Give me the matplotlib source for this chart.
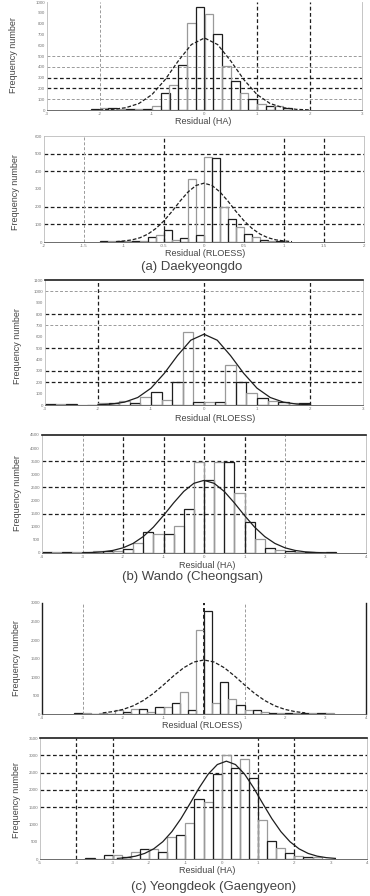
import matplotlib
matplotlib.use("Agg")
import matplotlib.pyplot as plt

plt.rcParams['font.family'] = ['Liberation Sans', 'DejaVu Sans']

# ---- data ----
# (a) Daekyeongdo, residual (HA)
p1_edges = [-2.167, -2.0, -1.833, -1.667, -1.5, -1.333, -1.167, -1.0, -0.833, -0.667, -0.5, -0.333,
            -0.167, 0.0, 0.167, 0.333, 0.5, 0.667, 0.833, 1.0, 1.167, 1.333, 1.5]
p1_counts = [10, 19, 19, 10, 5, 5, 10, 40, 157, 231, 417, 806, 954, 889, 704, 407, 269, 157, 102,
             56, 37, 37, 19]
p1_curve_x = [-2.0, -1.75, -1.5, -1.25, -1.0, -0.75, -0.5, -0.25, 0.0, 0.25, 0.5, 0.75, 1.0, 1.25,
              1.5, 1.75, 2.0]
p1_curve_y = [1, 6, 21, 60, 143, 281, 454, 606, 667, 606, 454, 281, 143, 60, 21, 6, 1]
p1_xticks = [-3, -2, -1, 0, 1, 2, 3]
p1_yticks = [0, 100, 200, 300, 400, 500, 600, 700, 800, 900, 1000]

# (a) Daekyeongdo, residual (RLOESS)
p2_edges = [-1.3, -1.2, -1.1, -1.0, -0.9, -0.8, -0.7, -0.6, -0.5, -0.4, -0.3, -0.2, -0.1, 0.0, 0.1,
            0.2, 0.3, 0.4, 0.5, 0.6, 0.7, 0.8, 0.9]
p2_counts = [6, 6, 6, 6, 6, 6, 28, 40, 68, 12, 20, 356, 40, 480, 475, 200, 130, 85, 45, 30, 12, 8, 6]
p2_curve_x = [-1.1, -1.0, -0.9, -0.8, -0.7, -0.6, -0.5, -0.4, -0.3, -0.2, -0.1, 0.0, 0.1, 0.2, 0.3,
              0.4, 0.5, 0.6, 0.7, 0.8, 0.9, 1.0, 1.1]
p2_curve_y = [2, 6, 12, 24, 45, 77, 120, 173, 231, 283, 320, 333, 320, 283, 231, 173, 120, 77, 45,
              24, 12, 6, 2]
p2_xticks = [-2, -1.5, -1, -0.5, 0, 0.5, 1, 1.5, 2]
p2_yticks = [0, 100, 200, 300, 400, 500, 600]

# (b) Wando (Cheongsan), residual (RLOESS)
p3_edges = [-3.0, -2.8, -2.6, -2.4, -2.2, -2.0, -1.8, -1.6, -1.4, -1.2, -1.0, -0.8, -0.6, -0.4, -0.2,
            0.0, 0.2, 0.4, 0.6, 0.8, 1.0, 1.2, 1.4, 1.6, 1.8]
p3_counts = [5, 5, 5, 0, 0, 17, 17, 35, 20, 70, 114, 40, 202, 640, 30, 30, 30, 350, 202, 105, 61,
             35, 25, 17, 17]
p3_curve_x = [-2.0, -1.75, -1.5, -1.25, -1.0, -0.75, -0.5, -0.25, 0.0, 0.25, 0.5, 0.75, 1.0, 1.25,
              1.5, 1.75, 2.0]
p3_curve_y = [2, 8, 25, 66, 148, 278, 435, 570, 623, 570, 435, 278, 148, 66, 25, 8, 2]
p3_xticks = [-3, -2, -1, 0, 1, 2, 3]
p3_yticks = [0, 100, 200, 300, 400, 500, 600, 700, 800, 900, 1000, 1100]

# (b) Wando (Cheongsan), residual (HA)
p4_edges = [-4.0, -3.75, -3.5, -3.25, -3.0, -2.75, -2.5, -2.25, -2.0, -1.75, -1.5, -1.25, -1.0,
            -0.75, -0.5, -0.25, 0.0, 0.25, 0.5, 0.75, 1.0, 1.25, 1.5, 1.75, 2.0, 2.25, 2.5, 2.75, 3.0]
p4_counts = [40, 40, 40, 40, 40, 60, 60, 80, 150, 380, 800, 720, 720, 1030, 1670, 3460, 2770, 3460,
             3460, 2280, 1180, 530, 200, 100, 60, 40, 40, 30, 30]
p4_curve_x = [-3.0, -2.75, -2.5, -2.25, -2.0, -1.75, -1.5, -1.25, -1.0, -0.75, -0.5, -0.25, 0.0,
              0.25, 0.5, 0.75, 1.0, 1.25, 1.5, 1.75, 2.0, 2.25, 2.5, 2.75, 3.0]
p4_curve_y = [7, 19, 44, 98, 197, 366, 626, 986, 1430, 1910, 2348, 2658, 2770, 2658, 2348, 1910,
              1430, 986, 626, 366, 197, 98, 44, 19, 7]
p4_xticks = [-4, -3, -2, -1, 0, 1, 2, 3, 4]
p4_yticks = [0, 500, 1000, 1500, 2000, 2500, 3000, 3500, 4000, 4500]

# (c) Yeongdeok, residual (RLOESS)
p5_edges = [-3.2, -3.0, -2.8, -2.6, -2.4, -2.2, -2.0, -1.8, -1.6, -1.4, -1.2, -1.0, -0.8, -0.6, -0.4,
            -0.2, 0.0, 0.2, 0.4, 0.6, 0.8, 1.0, 1.2, 1.4, 1.6, 1.8, 2.0, 2.2, 2.4, 2.6, 2.8, 3.0]
p5_counts = [30, 30, 0, 15, 0, 110, 60, 135, 135, 60, 190, 190, 300, 600, 120, 2270, 2780, 300, 860,
             400, 240, 100, 100, 60, 40, 40, 40, 40, 40, 40, 40, 40]
p5_curve_x = [-2.5, -2.25, -2.0, -1.75, -1.5, -1.25, -1.0, -0.75, -0.5, -0.25, 0.0, 0.25, 0.5, 0.75,
              1.0, 1.25, 1.5, 1.75, 2.0, 2.25, 2.5]
p5_curve_y = [31, 64, 124, 220, 364, 556, 787, 1032, 1251, 1405, 1460, 1405, 1251, 1032, 787, 556,
              364, 220, 124, 64, 31]
p5_xticks = [-4, -3, -2, -1, 0, 1, 2, 3, 4]
p5_yticks = [0, 500, 1000, 1500, 2000, 2500, 3000]

# (c) Yeongdeok, residual (HA)
p6_edges = [-3.75, -3.5, -3.25, -3.0, -2.75, -2.5, -2.25, -2.0, -1.75, -1.5, -1.25, -1.0, -0.75,
            -0.5, -0.25, 0.0, 0.25, 0.5, 0.75, 1.0, 1.25, 1.5, 1.75, 2.0, 2.25, 2.5]
p6_counts = [30, 10, 115, 115, 60, 200, 290, 290, 200, 640, 690, 1040, 1730, 1650, 2460, 3000,
             2630, 2890, 2340, 1130, 520, 320, 170, 80, 60, 60]
p6_curve_x = [-2.87, -2.62, -2.37, -2.12, -1.87, -1.62, -1.37, -1.12, -0.87, -0.62, -0.37, -0.12,
              0.13, 0.38, 0.63, 0.88, 1.13, 1.38, 1.63, 1.88, 2.13, 2.38, 2.63, 2.88, 3.13]
p6_curve_y = [17, 39, 82, 161, 294, 500, 792, 1169, 1607, 2058, 2456, 2732, 2830, 2732, 2456, 2058,
              1607, 1169, 792, 500, 294, 161, 82, 39, 17]
p6_xticks = [-5, -4, -3, -2, -1, 0, 1, 2, 3, 4]
p6_yticks = [0, 500, 1000, 1500, 2000, 2500, 3000, 3500]

W, H = 370, 896
fig = plt.figure(figsize=(W / 100, H / 100), dpi=100)
fig.patch.set_facecolor('white')

DARK = '#1e1e1e'
LIGHT = '#9a9a9a'
TXT = '#444444'


def px_axes(left, top, right, bottom):
    return fig.add_axes([left / W, 1 - bottom / H, (right - left) / W, (bottom - top) / H])


def panel(ax, edges, counts, width, cx, cy, xticks, yticks, hdark, hlight, vdark, vlight, curve_ls):
    ax.set_xlim(xticks[0], xticks[-1])
    ax.set_ylim(yticks[0], yticks[-1])
    for y in hdark:
        ax.axhline(y, color=DARK, lw=0.9, ls=(0, (3, 2)), zorder=1)
    for y in hlight:
        ax.axhline(y, color=LIGHT, lw=0.7, ls=(0, (3, 2)), zorder=1)
    for x in vdark:
        ax.axvline(x, color=DARK, lw=0.9, ls=(0, (3, 2)), zorder=1)
    for x in vlight:
        ax.axvline(x, color=LIGHT, lw=0.7, ls=(0, (3, 2)), zorder=1)
    cols = [DARK if i % 2 == 0 else LIGHT for i in range(len(counts))]
    ax.bar(edges, counts, width=width, align='edge', fill=False, edgecolor=cols,
           linewidth=0.9, zorder=2)
    ax.plot(cx, cy, color=DARK, lw=0.9, ls=curve_ls, zorder=3)
    ax.set_xticks(xticks)
    ax.set_yticks(yticks)
    ax.set_xticklabels([f'{v:g}' for v in xticks])
    ax.set_yticklabels([f'{v:g}' for v in yticks])
    ax.tick_params(length=0, pad=1.5, labelsize=3.2, labelcolor='#777777')
    for s in ax.spines.values():
        s.set_color('#bbbbbb')
        s.set_linewidth(0.6)
    ax.spines['bottom'].set_color('#555555')
    ax.patch.set_alpha(0)


dashed = (0, (3, 1.5))

ax1 = px_axes(47, 2, 362, 110)
panel(ax1, p1_edges, p1_counts, 0.1667, p1_curve_x, p1_curve_y, p1_xticks, p1_yticks,
      [200, 300], [100, 400, 500], [1, 2], [-2], dashed)
ax1.spines['top'].set_visible(False)

ax2 = px_axes(44, 136, 364, 242)
panel(ax2, p2_edges, p2_counts, 0.1, p2_curve_x, p2_curve_y, p2_xticks, p2_yticks,
      [100, 200, 400, 500], [], [-0.5, 1.0, 1.5], [-1.5], dashed)

ax3 = px_axes(45, 280, 363, 405)
panel(ax3, p3_edges, p3_counts, 0.2, p3_curve_x, p3_curve_y, p3_xticks, p3_yticks,
      [200, 300, 500, 800], [700, 1000], [-2, 0, 2], [], '-')
ax3.spines['top'].set_color(DARK)
ax3.spines['top'].set_linewidth(1.2)

ax4 = px_axes(42, 435, 366, 553)
panel(ax4, p4_edges, p4_counts, 0.25, p4_curve_x, p4_curve_y, p4_xticks, p4_yticks,
      [1500, 2500, 3500], [], [-2, -1, 0, 1], [-3, 2], '-')
ax4.spines['top'].set_color(DARK)
ax4.spines['top'].set_linewidth(1.2)

ax5 = px_axes(42, 603, 366, 714)
panel(ax5, p5_edges, p5_counts, 0.2, p5_curve_x, p5_curve_y, p5_xticks, p5_yticks,
      [], [], [], [-3, 1], dashed)
ax5.axvline(0, color=DARK, lw=1.4, ls=(0, (2, 1.5)), zorder=1)
ax5.spines['top'].set_visible(False)
for side in ('left', 'right'):
    ax5.spines[side].set_color(DARK)
    ax5.spines[side].set_linewidth(1.0)

ax6 = px_axes(40, 738, 367, 859)
panel(ax6, p6_edges, p6_counts, 0.25, p6_curve_x, p6_curve_y, p6_xticks, p6_yticks,
      [1500, 2000, 2500, 3000], [], [-4, -3, 1, 2], [], '-')
ax6.spines['top'].set_color(DARK)
ax6.spines['top'].set_linewidth(1.2)


def ftext(x, y, s, size, **kw):
    fig.text(x / W, 1 - y / H, s, fontsize=size, color=TXT, ha='center', va='center', **kw)


# x labels
ftext(203, 122, 'Residual (HA)', 6.5)
ftext(205, 253, 'Residual (RLOESS)', 6.5)
ftext(215, 418, 'Residual (RLOESS)', 6.5)
ftext(207, 565, 'Residual (HA)', 6.5)
ftext(202, 726, 'Residual (RLOESS)', 6.5)
ftext(207, 870, 'Residual (HA)', 6.5)

# y labels
ftext(14, 55, 'Frequency number', 6.5, rotation=90)
ftext(16, 192, 'Frequency number', 6.5, rotation=90)
ftext(18, 346, 'Frequency number', 6.5, rotation=90)
ftext(18, 493, 'Frequency number', 6.5, rotation=90)
ftext(17, 658, 'Frequency number', 6.5, rotation=90)
ftext(17, 800, 'Frequency number', 6.5, rotation=90)

# captions
ftext(192, 267, '(a) Daekyeongdo', 9.5)
ftext(192, 577, '(b) Wando (Cheongsan)', 9.5)
ftext(214, 887, '(c) Yeongdeok (Gaengyeon)', 9.5)

fig.savefig('out.png', dpi=100, facecolor='white')
